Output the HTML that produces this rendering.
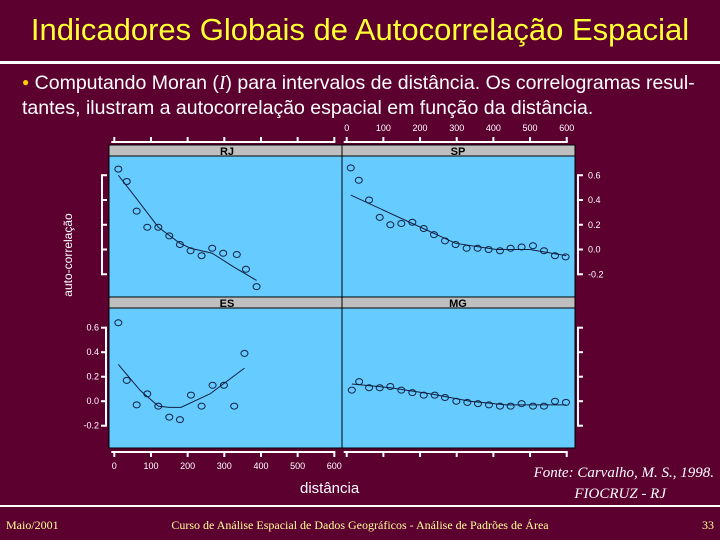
<!DOCTYPE html>
<html><head><meta charset="utf-8"><style>
body{margin:0;background:#5c0030;}
#s{position:relative;width:720px;height:540px;background:#5c0030;overflow:hidden;font-family:"Liberation Sans",sans-serif;}
</style></head><body>
<div id="s">
<div style="position:absolute;left:0;top:12px;width:720px;text-align:center;color:#ffff33;font-size:31px;">Indicadores Globais de Autocorrelação Espacial</div>
<div style="position:absolute;left:0;top:61px;width:720px;height:3px;background:#fff;"></div>
<div style="position:absolute;left:22px;top:70px;width:698px;color:#fff;font-size:19.5px;line-height:24px;white-space:nowrap;"><span style="color:#ffcc00;font-size:12px;vertical-align:3px">●</span> Computando Moran (<i style="font-family:'Liberation Serif',serif">I</i>) para intervalos de distância. Os correlogramas resul-<br>tantes, ilustram a autocorrelação espacial em função da distância.</div>
<svg id="c" width="720" height="540" style="position:absolute;left:0;top:0" font-family="Liberation Sans, sans-serif"></svg>
<div style="position:absolute;left:300px;top:480px;color:#fff;font-size:15px;">distância</div>
<div style="position:absolute;left:480px;top:463px;width:234px;text-align:right;color:#fff;font-family:'Liberation Serif',serif;font-style:italic;font-size:15px;line-height:21px;">Fonte: Carvalho, M. S., 1998.<br><span style="margin-right:48px">FIOCRUZ - RJ</span></div>
<div style="position:absolute;left:0;top:505px;width:720px;height:2px;background:#fff;"></div>
<div style="position:absolute;left:6px;top:518px;color:#ffff99;font-family:'Liberation Serif',serif;font-size:12px;">Maio/2001</div>
<div style="position:absolute;left:160px;top:518px;width:400px;text-align:center;color:#ffff99;font-family:'Liberation Serif',serif;font-size:12px;">Curso de Análise Espacial de Dados Geográficos - Análise de Padrões de Área</div>
<div style="position:absolute;left:690px;top:518px;width:24px;text-align:right;color:#ffff99;font-family:'Liberation Serif',serif;font-size:12px;">33</div>
</div>
<script>
const xTicks=[0,100,200,300,400,500,600];
const yTicks=[0.6,0.4,0.2,0.0,-0.2];
const yTickLabels=["0.6","0.4","0.2","0.0","-0.2"];
const rjDist=[11,34,61,90,120,150,179,208,238,267,297,334,359,388];
const rjVal=[0.65,0.55,0.31,0.18,0.18,0.11,0.04,-0.01,-0.05,0.01,-0.03,-0.04,-0.16,-0.30];
const rjFitDist=[11,61,120,179,208,267,325,388];
const rjFitVal=[0.60,0.41,0.18,0.05,0.01,-0.03,-0.14,-0.25];
const spDist=[11,33,61,90,119,149,179,210,238,268,297,327,357,387,418,447,477,508,538,568,597];
const spVal=[0.66,0.56,0.40,0.26,0.20,0.21,0.22,0.17,0.12,0.07,0.04,0.01,0.01,0.0,-0.01,0.01,0.02,0.03,-0.01,-0.05,-0.06];
const spFitDist=[11,179,297,408,499,599];
const spFitVal=[0.44,0.21,0.05,0.0,0.0,-0.05];
const esDist=[11,34,61,90,120,150,179,209,238,268,299,327,355];
const esVal=[0.64,0.17,-0.03,0.06,-0.04,-0.13,-0.15,0.05,-0.04,0.13,0.13,-0.04,0.39];
const esFitDist=[11,70,120,150,182,261,355];
const esFitVal=[0.30,0.09,-0.04,-0.05,-0.05,0.06,0.27];
const mgDist=[14,34,61,90,119,149,179,210,240,268,299,329,358,388,418,447,477,508,538,568,598];
const mgVal=[0.09,0.16,0.11,0.11,0.12,0.09,0.07,0.05,0.05,0.03,0.0,-0.01,-0.02,-0.03,-0.04,-0.04,-0.02,-0.04,-0.04,0.0,-0.01];
const mgFitDist=[14,119,229,336,435,598];
const mgFitVal=[0.14,0.11,0.06,0.0,-0.03,-0.03];

const NS="http://www.w3.org/2000/svg";
const svg=document.getElementById('c');
function mk(t,a,p){const e=document.createElementNS(NS,t);for(const k in a)e.setAttribute(k,a[k]);(p||svg).appendChild(e);return e;}
const xL=d=>114.3+d*0.3667, xR=d=>346.7+d*0.3667;
const yT=v=>249.5-v*123.75, yB=v=>401.2-v*122.5;

let e;
e=mk('rect',{x:109,y:145,width:466,height:303,fill:'#66ccff',stroke:'#000','stroke-width':1});

[[145,'RJ','SP'],[297,'ES','MG']].forEach(([y,a,b])=>{
  e=mk('rect',{x:109,y:y,width:466,height:11,fill:'#bfbfbf',stroke:'#000','stroke-width':1});
  
  e=mk('text',{x:227,y:y+10,'font-size':11,'font-weight':'bold','text-anchor':'middle',fill:'#000'});e.textContent=a;
  
  e=mk('text',{x:458,y:y+10,'font-size':11,'font-weight':'bold','text-anchor':'middle',fill:'#000'});e.textContent=b;
  
});
e=mk('line',{x1:342,y1:145,x2:342,y2:448,stroke:'#000'});


function xAxis(fx,y,dir,labels,ly,name){
  const g=mk('g',{});
  mk('line',{x1:fx(0)-3,y1:y,x2:fx(600)+1,y2:y,stroke:'#fff','stroke-width':2},g);
  xTicks.forEach(t=>{mk('line',{x1:fx(t),y1:y,x2:fx(t),y2:y+dir*5,stroke:'#fff','stroke-width':2},g);
    if(labels){const tx=mk('text',{x:fx(t),y:ly,'font-size':9,fill:'#fff','text-anchor':'middle'},g);tx.textContent=t;}});
}
xAxis(xL,142,-1,false,0,'top-left-x-axis');
xAxis(xR,142,-1,true,131,'top-right-x-axis');
xAxis(xL,452,1,true,469,'bottom-left-x-axis');
xAxis(xR,452,1,false,0,'bottom-right-x-axis');
function yAxis(fy,x,dir,labels,lx,anchor,name){
  const g=mk('g',{});
  mk('line',{x1:x,y1:fy(0.6)-1,x2:x,y2:fy(-0.2)+1,stroke:'#fff','stroke-width':2},g);
  yTicks.forEach((t,i)=>{mk('line',{x1:x,y1:fy(t),x2:x+dir*5,y2:fy(t),stroke:'#fff','stroke-width':2},g);
    if(labels){const tx=mk('text',{x:lx,y:fy(t)+3,'font-size':9,fill:'#fff','text-anchor':anchor},g);tx.textContent=yTickLabels[i];}});
}
yAxis(yT,102,1,false,0,'end','top-left-y-axis');
yAxis(yT,578,1,true,588,'start','top-right-y-axis');
yAxis(yB,106,-1,true,99,'end','bottom-left-y-axis');
yAxis(yB,578,1,false,0,'start','bottom-right-y-axis');
e=mk('text',{x:0,y:0,'font-size':12,fill:'#fff','text-anchor':'middle',transform:'translate(72,255) rotate(-90)'});
e.textContent='auto-correlação';

function series(fx,fy,d,v,fd,fv,name){
  const g=mk('g',{});
  const p=mk('polyline',{points:fd.map((x,i)=>fx(x)+','+fy(fv[i])).join(' '),fill:'none',stroke:'#102040','stroke-width':1},g);
  
  d.forEach((x,i)=>{const c=mk('ellipse',{cx:fx(x),cy:fy(v[i]),rx:3.5,ry:3,fill:'none',stroke:'#102040','stroke-width':1},g);
    });
}
series(xL,yT,rjDist,rjVal,rjFitDist,rjFitVal,'rj');
series(xR,yT,spDist,spVal,spFitDist,spFitVal,'sp');
series(xL,yB,esDist,esVal,esFitDist,esFitVal,'es');
series(xR,yB,mgDist,mgVal,mgFitDist,mgFitVal,'mg');
</script>
</body></html>
